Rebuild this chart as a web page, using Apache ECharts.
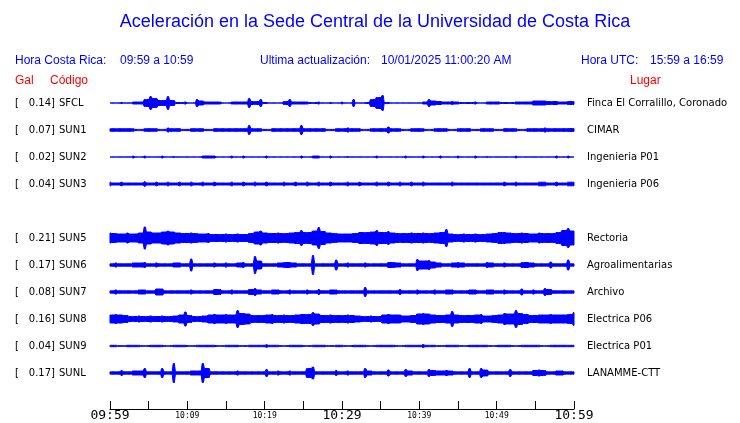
<!DOCTYPE html>
<html><head><meta charset="utf-8">
<script src="https://cdn.jsdelivr.net/npm/echarts@6/dist/echarts.min.js"></script>
<style>html,body{margin:0;padding:0;background:#fff}#c{width:740px;height:423px}</style>
</head><body><div id="c"></div>
<script>
// ---------------- data ----------------
const titleText = 'Aceleración en la Sede Central de la Universidad de Costa Rica';
const codes  = ['SFCL','SUN1','SUN2','SUN3','SUN5','SUN6','SUN7','SUN8','SUN9','SUNL'];
const gals   = ['0.14','0.07','0.02','0.04','0.21','0.17','0.08','0.16','0.04','0.17'];
const places = ['Finca El Corralillo, Coronado','CIMAR','Ingenieria P01','Ingenieria P06','Rectoria',
                'Agroalimentarias','Archivo','Electrica P06','Electrica P01','LANAMME-CTT'];
const rows   = [0,1,2,3,5,6,7,8,9,10];
const tickLabels = ['09:59','10:09','10:19','10:29','10:39','10:49','10:59'];
const bigLabels  = ['09:59','10:29','10:59'];
const sampleStep = 0.75; // minutes between envelope samples

// half-amplitude envelopes (display units), one sample every 0.75 min from 09:59
const ampSFCL = [0,0,0.5,0,1,1,3.5,6.5,4.5,2.5, 6.5,2.5,0.5,1,0,3.5,2,1,1,1, 0,1,1,1,4.5,1.5,3.5,0.5,0,0,
  1.5,3.5,1,1,1,0.5,1,0,0.5,0, 1,0,3.5,0,0.5,3.5,5.5,7.5,0.5,0, 0,0,0,0,1,3.5,2,1.5,1,1.5,
  1,0.5,0.5,1,0,1,1,1,0.5,0.5, 1,1,1,2,2,2,1.5,1.5,1,1.5, 1.5];
const ampSUN1 = [1.3,1.3,1.3,1.3,1.3,0.6,1.3,1.3,1.3,0.6, 2,1.3,1.3,0.6,1.3,1.3,1.3,0.6,1.3,1.3,
  1.3,1.3,1.3,1.3,4.5,1.3,1.3,0.6,1.3,1.3, 1.3,1.3,1.3,4.5,1.3,1.3,1.3,1.3,0.6,1.3,
  1.3,2,1.3,1.3,0.6,1.3,1.3,1.3,3,1.3, 1.3,0.6,1.3,1.3,1.3,0.6,1.3,1.3,1.3,0.6,
  1.3,1.3,1.3,0.6,1.3,1.3,1.3,0.6,1.3,1.3, 1.3,0.6,1.3,1.3,1.3,2,1.3,1.3,1.3,1.5, 1.5];
const ampSUN2 = [0,0,0,0,1,0,1,0,0,1, 0,0.5,0,0,0,0,1,1,1,0, 0,1,0,1,0,0,0,1,0,0,
  0,0,0,1,0,1,1,0,1,0, 0,0.5,0,0,0,0,1,0,0,0, 0,1,0,0,1,0,0,1,0,0,
  1,0,0,1,0,0.5,0,0,0,0, 1,0,0,0,0,0,0,1,0,1, 0];
const ampSUN3 = [1.8,1,1.8,1,1,1,2.2,1,1.8,1, 1.8,1,1.8,1,1.8,1,1.8,1,1.8,1, 1,1.8,1,1.8,1,1.8,1,1.8,1,1,
  1.8,1,1.8,1,1.8,1,1.8,1,1.8,1, 1,1.8,1,1.8,1,1,1.8,1,1.8,1, 1.8,1,1.8,1,1.8,1,1,1,1,1.8,
  1,1,1,1,1,1,1,1,1.8,1, 1.8,1,1,1,1.8,1.8,1,1.8,1,1.8, 1.8];
const ampSUN5 = [5,4.5,4,5,4,5,11,6,5,6, 7,6,5,4.5,5,4.5,4,4.5,3.5,3.5, 4,3.5,4,3.5,4.5,6,7,5,4.5,5,
  4.5,5,5.5,7.5,5.5,7,10.5,6.5,5,4.5, 4,4,4.5,5.5,5.5,6,7.5,5.5,6.5,5, 4.5,4.5,5,4.5,5,4.5,5,5.5,8.5,4,
  3.5,4,3.5,4,3.5,4,4.5,5.5,5.5,5, 4.5,5,4.5,4,5,4.5,4.5,5.5,7.5,9.5, 7];
const ampSUN6 = [1.2,2,1.2,1.2,2,2,2.5,1.2,2,1.2, 1.2,2,2,1.2,6,1.2,1.2,1.2,2,1.2, 2,1.2,2,2.5,1.2,8.5,4,1.2,1.2,2,
  2.5,2.5,2,1.2,1.2,9.5,1.2,1.2,1.2,5, 1.2,2,1.2,1.2,2,1.2,1.2,1.2,2.5,2.5, 2,1.2,1.2,5.5,4,4.5,3,2,1.2,2,
  2.5,2,1.2,1.2,1.2,2.5,2,1.2,2,1.2, 1.2,2.5,2.5,2,1.2,1.2,3,1.2,1.2,5, 1.2];
const ampSUN7 = [1.2,2,1.2,1.2,1.2,2,2,1.2,3,3, 1.2,1.2,1.2,1.2,2,1.2,1.2,1.2,2.5,2.5, 1.2,2,1.2,1.2,2.5,3.5,2,1.2,2,2,
  1.2,2,1.2,1.2,2,1.2,2.5,1.2,2,2, 1.2,1.2,1.2,1.2,4.5,1.2,1.2,1.2,1.2,1.2, 2.5,1.2,1.2,2,1.2,1.2,2,1.2,2,2,
  1.2,1.2,2,2,1.2,2,2,1.2,2,1.2, 1.2,3,1.2,2,1.2,3.5,2.5,1.2,1.2,1.2, 1.2];
const ampSUN8 = [4,4.5,4,3.5,2.5,3,2.5,3,2.5,3, 2.5,3,4,7,3.5,2.5,3,4,4.5,4, 4.5,4,8.5,5.5,5,3.5,3.5,4,4.5,3.5,
  4,3.5,4,4.5,4.5,6.5,5,3.5,4,3.5, 3.5,4,3.5,3,2.5,3,2.5,4,4.5,4, 4,3,3.5,5,5.5,5,4,3.5,4,7.5,
  4,3.5,3.5,4,4.5,3,3.5,4,5.5,5, 8.5,5.5,4.5,3.5,4,4,4.5,4,4,4.5, 6.5];
const ampSUN9 = [0.7,0.7,0.3,0.7,0.7,0.7,0.3,0.7,0.7,0.7, 0.3,0.7,0.7,0.7,0.3,0.7,0.7,0.7,0.7,0.3,
  0.7,0.7,0.7,0.3,0.7,0.7,0.7,1.2,0.7,0.7, 0.3,0.7,0.7,0.7,0.3,0.7,0.7,0.7,0.3,0.7,
  0.7,0.3,0.7,0.7,0.7,0.3,0.7,0.7,0.7,0.7, 0.3,0.7,0.7,0.7,1.5,0.7,0.7,0.3,0.7,0.7,
  0.7,0.3,0.7,0.7,0.7,0.7,0.3,0.7,0.7,0.7, 0.3,0.7,0.7,0.7,0.7,0.3,0.7,0.7,0.7,0.7, 0.7];
const ampSUNL = [1.2,1.2,2.5,1.2,2,2,4.5,1.2,1.2,4.5, 1.2,9.5,1.2,1.2,2,2,9.5,4.5,1.2,1.2, 1.2,1.2,2,1.2,1.2,1.2,1.2,3.5,1.2,2,
  1.2,2,1.2,1.2,4.5,6,1.2,1.2,1.2,2.5, 1.2,2,1.2,1.2,4.5,2,1.2,1.2,3,1.2, 1.2,3.5,2,1.2,1.2,3.5,2.5,2,2.5,2,
  1.2,1.2,4.5,1.2,4.5,3,1.2,1.2,1.2,3.5, 1.2,1.2,1.2,2.5,3,2.5,1.2,2,2,1.2, 1.2];
const amps = [ampSFCL,ampSUN1,ampSUN2,ampSUN3,ampSUN5,ampSUN6,ampSUN7,ampSUN8,ampSUN9,ampSUNL];

// ---------------- chart ----------------
const BLUE = '#0000ff', RED = '#ff0000';
const ROW = 27, YMAX = 324;

function tracePolygon(api, a, c) {
  const yc = api.coord([0, c])[1];
  const xs = a.map((v, i) => api.coord([i * sampleStep, c])[0]);
  const hs = a.map(v => api.coord([0, c + v])[1] - yc);
  const x0 = xs[0], x1 = xs[xs.length - 1], n = a.length;
  const clamp = x => Math.max(x0, Math.min(x1, x));
  const prof = [];
  for (let i = 0; i < n; i++) {
    const mL = i > 0 ? Math.min(hs[i - 1], hs[i]) : hs[i];
    const mR = i < n - 1 ? Math.min(hs[i], hs[i + 1]) : hs[i];
    prof.push([clamp(xs[i] - 1.6), mL], [clamp(xs[i] - 0.6), hs[i]],
              [clamp(xs[i] + 0.6), hs[i]], [clamp(xs[i] + 1.6), mR]);
  }
  const top = prof.map(p => [p[0], yc - p[1]]);
  const bot = prof.map(p => [p[0], yc + p[1]]).reverse();
  return top.concat(bot);
}

const chart = echarts.init(document.getElementById('c'), null, {renderer:'canvas'});
chart.setOption({
  animation:false,
  backgroundColor:'#fff',
  grid:{left:110, width:464, top:76, height:324},
  xAxis:{type:'value', min:0, max:60, interval:5, offset:9,
    axisLine:{onZero:false, lineStyle:{color:'#000', width:1}},
    axisTick:{inside:true, length:8, lineStyle:{color:'#000', width:1}},
    splitLine:{show:false},
    axisLabel:{margin:0, showMinLabel:true, showMaxLabel:true, hideOverlap:false,
      formatter:v=>{ if (v % 10 !== 0) return ''; const t = tickLabels[v/10];
        return bigLabels.includes(t) ? '{b|'+t+'}' : '{s|'+t+'}'; },
      rich:{b:{fontSize:13, fontFamily:'DejaVu Sans Mono', color:'#000', lineHeight:14},
            s:{fontSize:8, fontFamily:'DejaVu Sans Mono', color:'#000', lineHeight:14}}}
  },
  yAxis:{type:'value', inverse:true, min:0, max:YMAX, show:false},
  series:[{
    type:'custom', silent:true, clip:false,
    data: amps.map((a, k) => [0, (rows[k] + 1) * ROW, k]),
    encode:{x:0, y:1},
    renderItem:(params, api) => {
      const k = api.value(2), c = api.value(1);
      return {type:'polygon', shape:{points: tracePolygon(api, amps[k], c)},
        style:{fill:BLUE, stroke:BLUE, lineWidth:1}};
    }
  }]
});

function txt(x, y, text, font, fill, align) {
  return {type:'text', x, y, silent:true,
    style:{text, font, fill, align:align||'left', textAlign:align||'left', verticalAlign:'middle', textVerticalAlign:'middle'}};
}
const SANS = '"Liberation Sans", Arial, sans-serif';
const DJ = '10px "DejaVu Sans"';
const els = [
  txt(375, 22, titleText, '18px ' + SANS, BLUE, 'center'),
  txt(15, 61, 'Hora Costa Rica:', '12px ' + SANS, BLUE),
  txt(120, 61, '09:59 a 10:59', '12px ' + SANS, BLUE),
  txt(260, 61, 'Ultima actualización:', '12px ' + SANS, BLUE),
  txt(381, 61, '10/01/2025 11:00:20 AM', '12px ' + SANS, BLUE),
  txt(581, 61, 'Hora UTC:', '12px ' + SANS, BLUE),
  txt(650, 61, '15:59 a 16:59', '12px ' + SANS, BLUE),
  txt(15, 81, 'Gal', '12px ' + SANS, RED),
  txt(50, 81, 'Código', '12px ' + SANS, RED),
  txt(630, 81, 'Lugar', '12px ' + SANS, RED)
];
codes.forEach((code, k) => {
  const y = chart.convertToPixel({yAxisIndex:0}, (rows[k] + 1) * ROW);
  els.push(txt(15, y, '[', DJ, '#000'));
  els.push(txt(55, y, gals[k] + ']', DJ, '#000', 'right'));
  els.push(txt(59, y, code, DJ, '#000'));
  els.push(txt(587, y, places[k], DJ, '#000'));
});
chart.setOption({graphic:{elements:els}});
</script></body></html>
